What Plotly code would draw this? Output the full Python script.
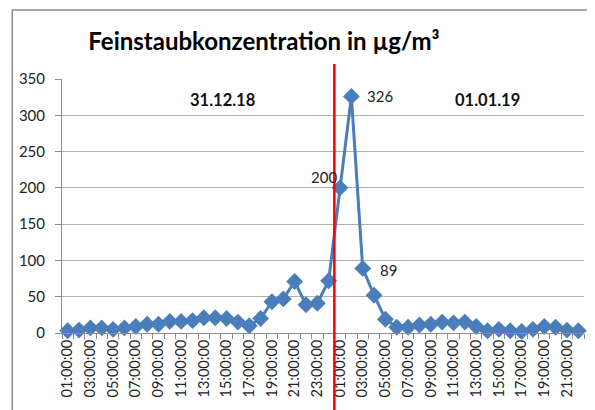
import pandas as pd
import plotly.graph_objects as go

# Hourly categories: 31.12.18 01:00 ... 01.01.19 22:00
start_time = "2018-12-31 01:00:00"
values = [3, 4, 7, 7, 5, 7, 9, 12, 12, 16, 16, 17, 21, 21, 20, 15, 10, 20, 43, 47, 71, 39, 41, 72,
          200, 326, 89, 52, 19, 8, 8, 11, 12, 15, 14, 15, 9, 3, 5, 3, 2, 5, 9, 8, 4, 3]
times = pd.date_range(start_time, periods=len(values), freq="h")
labelled = [200, 326, 89]
# (xanchor, xshift, yshift) for each data label
label_style = {200: ("right", -1, 11), 326: ("left", 14, 0), 89: ("left", 15, -2)}
day_labels = ["31.12.18", "01.01.19"]
day_label_x = ["2018-12-31 14:40", "2019-01-01 14:00"]
day_label_y = 321
marker_time = "2019-01-01 00:30"
y_ticks = [0, 50, 100, 150, 200, 250, 300, 350]

FONT = "Lato"
fig = go.Figure()
fig.add_trace(go.Scatter(
    x=times, y=values, mode="lines+markers",
    line=dict(color="#4A7EBB", width=3),
    marker=dict(symbol="diamond", size=13, color="#4A7EBB"),
    cliponaxis=False, showlegend=False,
))

for t, v in zip(times, values):
    if v in labelled:
        xa, xs, ys = label_style[v]
        fig.add_annotation(x=t, y=v, xref="x", yref="y", text=str(v), showarrow=False,
                           xanchor=xa, yanchor="middle", xshift=xs, yshift=ys,
                           font=dict(family=FONT, size=15, color="#222"))

for lab, xx in zip(day_labels, day_label_x):
    fig.add_annotation(x=xx, y=day_label_y, xref="x", yref="y", text=f"<b>{lab}</b>",
                       showarrow=False, font=dict(family=FONT, size=16.5, color="#111"))

fig.add_shape(type="line", xref="x", yref="paper", x0=marker_time, x1=marker_time,
              y0=-0.35, y1=1.059, line=dict(color="#FF0000", width=2.5), layer="above")
fig.add_shape(type="rect", xref="paper", yref="paper", x0=-0.0952, x1=1.05, y0=-0.4, y1=1.2717,
              line=dict(color="#8C8C8C", width=1.5), layer="below")

fig.update_layout(
    width=587, height=402,
    margin=dict(l=51, r=11, t=71, b=77),
    paper_bgcolor="white", plot_bgcolor="white",
    title=dict(text="<b>Feinstaubkonzentration in µg/m³</b>", x=0.436, xanchor="center",
               y=0.9154, yanchor="middle", font=dict(family=FONT, size=24, color="#000")),
    font=dict(family=FONT, color="#222"),
)
fig.update_xaxes(
    type="date", range=["2018-12-31 00:30", "2019-01-01 22:30"],
    tick0=start_time, dtick=7200000, tickformat="%H:%M:%S", tickangle=-90,
    ticks="", showgrid=False, showline=True, linecolor="#8C8C8C", linewidth=1,
    tickfont=dict(family=FONT, size=14.5, color="#222"),
    minor=dict(ticks="outside", tick0="2018-12-31 00:30", dtick=3600000, ticklen=5,
               tickcolor="#8C8C8C", showgrid=False),
)
fig.update_yaxes(
    range=[0, 350], tickvals=y_ticks, ticks="outside", ticklen=6, tickcolor="#8C8C8C",
    showline=True, linecolor="#8C8C8C", linewidth=1, showgrid=True, gridcolor="#B0B0B0",
    gridwidth=1, zeroline=False, tickfont=dict(family=FONT, size=15, color="#222"),
    ticklabelstandoff=7,
)
fig.write_html("out.html")
